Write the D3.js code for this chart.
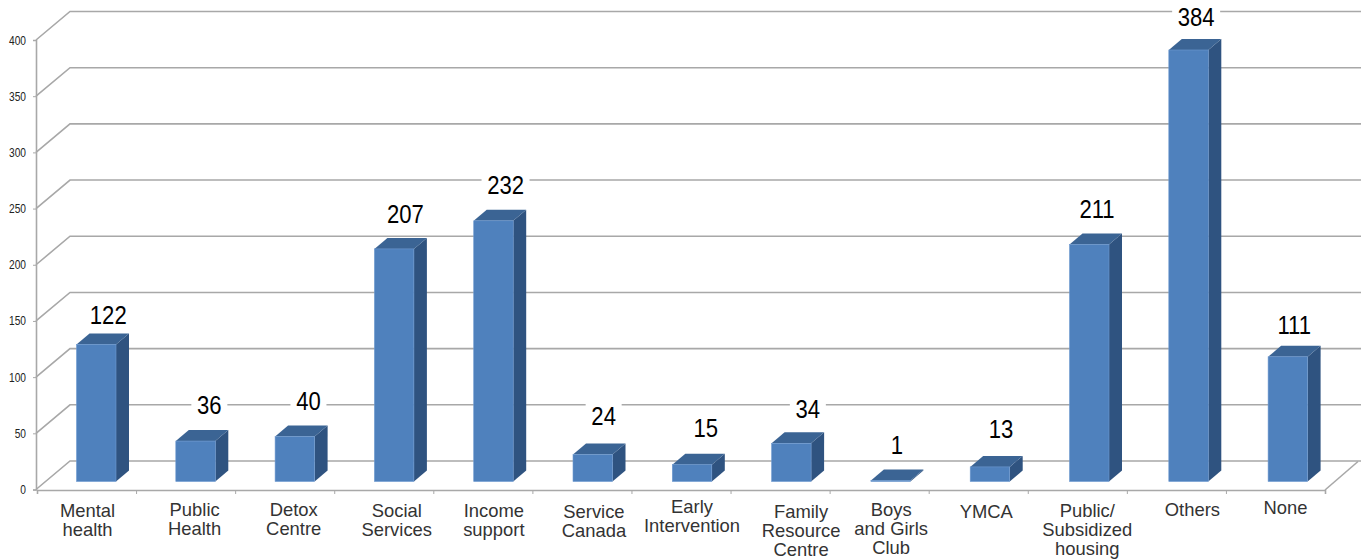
<!DOCTYPE html>
<html><head><meta charset="utf-8">
<script src="https://cdnjs.cloudflare.com/ajax/libs/d3/7.8.5/d3.min.js"></script>
<style>html,body{margin:0;padding:0;background:#fff;overflow:hidden}svg{display:block;font-family:"Liberation Sans",Arial,sans-serif}</style>
</head><body><svg id="c" width="1364" height="559"></svg>
<script>
const categories=[["Mental","health"],["Public","Health"],["Detox","Centre"],["Social","Services"],["Income","support"],["Service","Canada"],["Early","Intervention"],["Family","Resource","Centre"],["Boys","and Girls","Club"],["YMCA"],["Public/","Subsidized","housing"],["Others"],["None"]];
const values=[122,36,40,207,232,24,15,34,1,13,211,384,111];
const yTicks=[0,50,100,150,200,250,300,350,400];
// hand-placed offsets seen in the picture (px), kept apart from the data
const valueNudgeX=[12,13.8,13.6,11.3,12.1,10.9,13.7,16.5,6.2,11,7.8,7.6,6.4];
const valueNudgeY=[0,-7,-6,-5,-6,-9,-7,-5,-6,-8,-6,-3,-2];
const catNudgeX=[1,9,9,13,11,12,11,21,12,8,10,16,10];
const catNudgeY=[1,0,0,1,1,2,-3,2,0,2,1,0,-2];

const svg=d3.select("#c");
const X0=37,X1=1325,Y0=489.5,Y400=40,DX=33,DY=-28.5,BDX=13,BDY=-11,BW=39.5,BASE=8;
const y=d3.scaleLinear().domain([0,400]).range([Y0,Y400]);
const x=d3.scaleLinear().domain([0,categories.length]).range([X0,X1]);
const barX=d3.scaleLinear().domain([0,categories.length]).range([76.5,76.5+99.3*13]);
const grid="#a8a8a8";

// walls
const g=svg.append("g").attr("fill","none").attr("stroke",grid).attr("stroke-width",1.6);
yTicks.forEach(t=>{
  g.append("polyline").attr("points",[[X0-1,y(t)],[X0+DX,y(t)+DY],[1361,y(t)+DY]].join(" "));
});
g.append("polyline").attr("points",[[X1,Y0+.5],[X1+DX,Y0+DY+.5]].join(" "));

// y axis
const ya=svg.append("g").attr("transform",`translate(${X0-1},0)`).call(d3.axisLeft(y).tickValues(yTicks).tickSize(3).tickPadding(4));
ya.select(".domain").attr("stroke",grid).attr("stroke-width",1.6);
ya.selectAll(".tick line").attr("stroke",grid);
ya.selectAll(".tick text").attr("font-size",12).attr("font-family","'Liberation Sans'").attr("fill","#222")
  .attr("x",0).attr("dy",null)
  .attr("transform","translate(-10,4) scale(.85,1)");

// x axis
const xa=svg.append("g").attr("transform",`translate(0,${Y0+.5})`).call(d3.axisBottom(x).tickValues(d3.range(categories.length+1)).tickSize(4).tickFormat(""));
xa.select(".domain").attr("stroke",grid).attr("stroke-width",1.6);
xa.selectAll(".tick line").attr("stroke",grid);

// bars
const h=d=>y(0)-y(d);
const bars=svg.append("g").selectAll("g").data(values).join("g");
const left=i=>barX(i);
const bottom=Y0-BASE;
bars.append("polygon").attr("fill","#2f5380").attr("points",(d,i)=>{const l=left(i)+BW,t=bottom-h(d);
  return [[l,bottom],[l+BDX,bottom+BDY],[l+BDX,t+BDY],[l,t]].join(" ")});
bars.append("polygon").attr("fill","#3b6494").attr("points",(d,i)=>{const l=left(i),t=bottom-h(d);
  return [[l,t],[l+BDX,t+BDY],[l+BW+BDX,t+BDY],[l+BW,t]].join(" ")});
bars.append("rect").attr("fill","#4f81bd").attr("stroke","#6f9ad0").attr("stroke-width",.6)
  .attr("x",(d,i)=>left(i)).attr("y",d=>bottom-h(d)).attr("width",BW).attr("height",h);

// value labels
const lab=svg.append("g").selectAll("g").data(values).join("g")
  .attr("transform",(d,i)=>`translate(${left(i)+BW/2+valueNudgeX[i]},${bottom-h(d)+BDY-18.5+valueNudgeY[i]})`);
lab.append("rect").attr("fill","#fff").attr("x",d=>-(String(d).length*6+6)).attr("width",d=>2*(String(d).length*6+6)).attr("y",-15).attr("height",30);
lab.append("text").attr("text-anchor","middle").attr("font-size",26).attr("fill","#000").attr("transform","translate(0,9) scale(.85,1)").text(d=>d);

// category labels
const cat=svg.append("g").selectAll("text").data(categories).join("text")
  .attr("text-anchor","middle").attr("font-size",18.4).attr("fill","#333")
  .attr("transform",(d,i)=>`translate(${(x(i)+x(i+1))/2+catNudgeX[i]},${516+catNudgeY[i]})`);
cat.selectAll("tspan").data(d=>d).join("tspan").attr("x",0).attr("y",(d,i)=>i*19).text(d=>d);
</script></body></html>
